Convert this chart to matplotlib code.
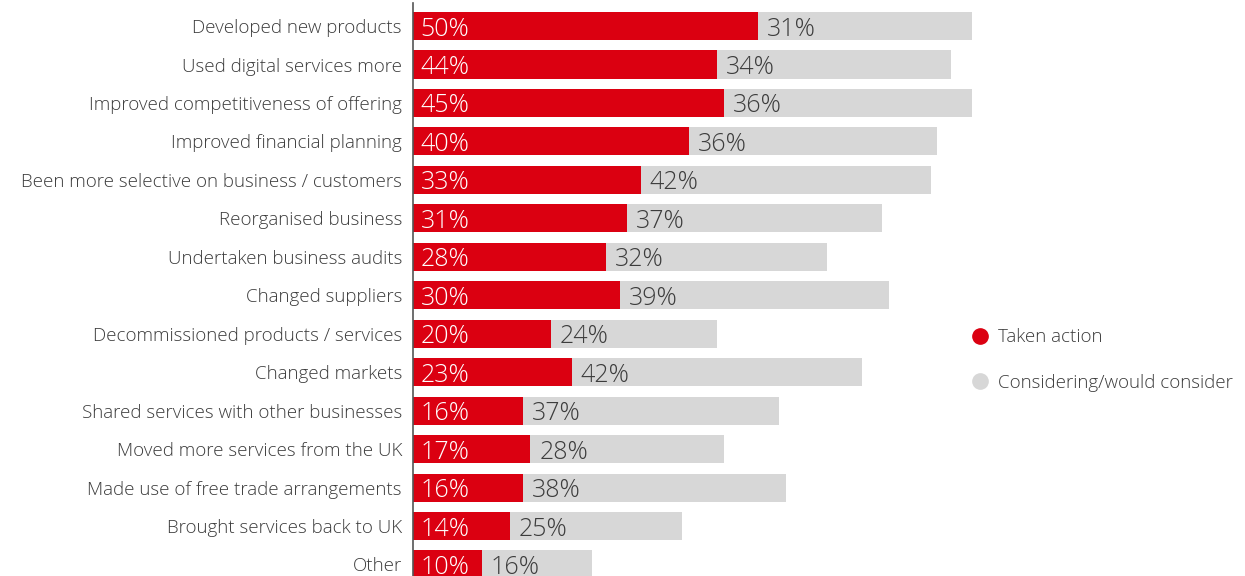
import matplotlib.pyplot as plt
from matplotlib.lines import Line2D

# Actions taken / considered, top to bottom
categories = [
    "Developed new products",
    "Used digital services more",
    "Improved competitiveness of offering",
    "Improved financial planning",
    "Been more selective on business / customers",
    "Reorganised business",
    "Undertaken business audits",
    "Changed suppliers",
    "Decommissioned products / services",
    "Changed markets",
    "Shared services with other businesses",
    "Moved more services from the UK",
    "Made use of free trade arrangements",
    "Brought services back to UK",
    "Other",
]
taken = [50, 44, 45, 40, 33, 31, 28, 30, 20, 23, 16, 17, 16, 14, 10]
considering = [31, 34, 36, 36, 42, 37, 32, 39, 24, 42, 37, 28, 38, 25, 16]

red = "#DB0011"
grey = "#D7D7D7"
text_col = "#3C3C3C"
font = ["Open Sans", "DejaVu Sans"]

fig = plt.figure(figsize=(12.45, 5.76), dpi=100)
ax = fig.add_axes([413 / 1245, 0, 690 / 1245, 573 / 576])

y = list(range(len(categories)))
ax.barh(y, taken, height=0.73, color=red, label="Taken action")
ax.barh(y, considering, left=taken, height=0.73, color=grey,
        label="Considering/would consider")

# percentage labels inside each segment
for i in y:
    ax.text(1.1, i, f"{taken[i]}%", color="white", va="center_baseline",
            ha="left", fontsize=18, family=font, fontweight="light")
    ax.text(taken[i] + 1.3, i, f"{considering[i]}%", color=text_col,
            va="center_baseline", ha="left", fontsize=18, family=font,
            fontweight="light")

ax.set_xlim(0, 100)
ax.set_ylim(14.30, -0.60)
ax.set_yticks(y)
ax.set_yticklabels(categories, fontsize=13.5, color=text_col, family=font,
                   fontweight="light")
ax.tick_params(axis="y", length=0, pad=8)
ax.set_xticks([])
for side in ["top", "right", "bottom"]:
    ax.spines[side].set_visible(False)
ax.spines["left"].set_color("#555555")
ax.spines["left"].set_linewidth(1.2)

handles = [
    Line2D([], [], marker="o", linestyle="", markersize=11, color=red),
    Line2D([], [], marker="o", linestyle="", markersize=11, color=grey),
]
fig.legend(handles, ["Taken action", "Considering/would consider"],
           loc="center left", bbox_to_anchor=(944 / 1245, 1 - 360 / 576),
           frameon=False, handletextpad=0.0, labelspacing=1.45,
           prop={"family": font, "size": 13.5, "weight": "light"},
           labelcolor=text_col)

fig.savefig("out.png", dpi=100)
